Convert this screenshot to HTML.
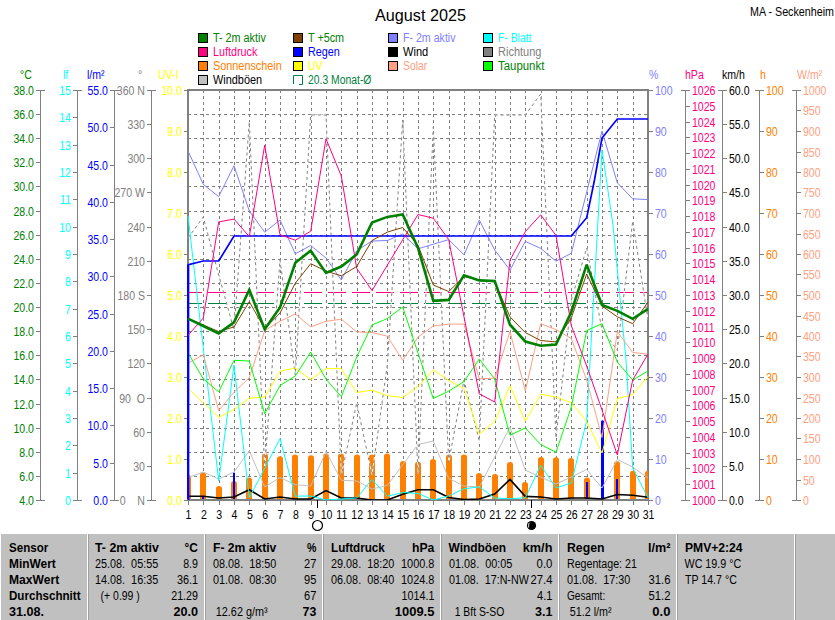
<!DOCTYPE html>
<html><head><meta charset="utf-8"><style>html,body{margin:0;padding:0;background:#fff;width:835px;height:620px;overflow:hidden}text{font-family:"Liberation Sans",sans-serif}</style></head><body>
<svg width="835" height="620" viewBox="0 0 835 620" style="display:block;font-family:&quot;Liberation Sans&quot;,sans-serif">
<rect x="0" y="0" width="835" height="620" fill="#fff"/>
<text xml:space="preserve" x="375.00" y="20.50" fill="#000" font-size="16" text-anchor="start" font-weight="normal" textLength="91" lengthAdjust="spacingAndGlyphs">August 2025</text>
<text xml:space="preserve" x="750.00" y="16.00" fill="#000" font-size="12" text-anchor="start" font-weight="normal" textLength="84" lengthAdjust="spacingAndGlyphs">MA - Seckenheim</text>
<rect x="198.5" y="33.5" width="9" height="9" fill="#008000" stroke="#000" stroke-width="1"/>
<text xml:space="preserve" x="213.00" y="42.00" fill="#008000" font-size="12" text-anchor="start" font-weight="normal" textLength="52.8" lengthAdjust="spacingAndGlyphs">T- 2m aktiv</text>
<rect x="198.5" y="47.5" width="9" height="9" fill="#ff0080" stroke="#000" stroke-width="1"/>
<text xml:space="preserve" x="213.00" y="56.00" fill="#ff0080" font-size="12" text-anchor="start" font-weight="normal" textLength="44.3" lengthAdjust="spacingAndGlyphs">Luftdruck</text>
<rect x="198.5" y="61.5" width="9" height="9" fill="#ff8000" stroke="#000" stroke-width="1"/>
<text xml:space="preserve" x="213.00" y="70.00" fill="#ff8000" font-size="12" text-anchor="start" font-weight="normal" textLength="68.8" lengthAdjust="spacingAndGlyphs">Sonnenschein</text>
<rect x="198.5" y="75.5" width="9" height="9" fill="#c0c0c0" stroke="#000" stroke-width="1"/>
<text xml:space="preserve" x="213.00" y="84.00" fill="#000000" font-size="12" text-anchor="start" font-weight="normal" textLength="49.099999999999994" lengthAdjust="spacingAndGlyphs">Windböen</text>
<rect x="293.5" y="33.5" width="9" height="9" fill="#804000" stroke="#000" stroke-width="1"/>
<text xml:space="preserve" x="308.00" y="42.00" fill="#008000" font-size="12" text-anchor="start" font-weight="normal" textLength="36.099999999999994" lengthAdjust="spacingAndGlyphs">T +5cm</text>
<rect x="293.5" y="47.5" width="9" height="9" fill="#0000ff" stroke="#000" stroke-width="1"/>
<text xml:space="preserve" x="308.00" y="56.00" fill="#0000ff" font-size="12" text-anchor="start" font-weight="normal" textLength="31.8" lengthAdjust="spacingAndGlyphs">Regen</text>
<rect x="293.5" y="61.5" width="9" height="9" fill="#ffff00" stroke="#000" stroke-width="1"/>
<text xml:space="preserve" x="308.00" y="70.00" fill="#ffff00" font-size="12" text-anchor="start" font-weight="normal" textLength="14.5" lengthAdjust="spacingAndGlyphs">UV</text>
<rect x="388.5" y="33.5" width="9" height="9" fill="#8080ff" stroke="#000" stroke-width="1"/>
<text xml:space="preserve" x="403.00" y="42.00" fill="#8080ff" font-size="12" text-anchor="start" font-weight="normal" textLength="52.5" lengthAdjust="spacingAndGlyphs">F- 2m aktiv</text>
<rect x="388.5" y="47.5" width="9" height="9" fill="#000000" stroke="#000" stroke-width="1"/>
<text xml:space="preserve" x="403.00" y="56.00" fill="#000000" font-size="12" text-anchor="start" font-weight="normal" textLength="25.2" lengthAdjust="spacingAndGlyphs">Wind</text>
<rect x="388.5" y="61.5" width="9" height="9" fill="#ffa080" stroke="#000" stroke-width="1"/>
<text xml:space="preserve" x="403.00" y="70.00" fill="#ffa080" font-size="12" text-anchor="start" font-weight="normal" textLength="24.3" lengthAdjust="spacingAndGlyphs">Solar</text>
<rect x="483.5" y="33.5" width="9" height="9" fill="#00ffff" stroke="#000" stroke-width="1"/>
<text xml:space="preserve" x="498.00" y="42.00" fill="#00ffff" font-size="12" text-anchor="start" font-weight="normal" textLength="33.4" lengthAdjust="spacingAndGlyphs">F- Blatt</text>
<rect x="483.5" y="47.5" width="9" height="9" fill="#808080" stroke="#000" stroke-width="1"/>
<text xml:space="preserve" x="498.00" y="56.00" fill="#808080" font-size="12" text-anchor="start" font-weight="normal" textLength="43.4" lengthAdjust="spacingAndGlyphs">Richtung</text>
<rect x="483.5" y="61.5" width="9" height="9" fill="#00ff00" stroke="#000" stroke-width="1"/>
<text xml:space="preserve" x="498.00" y="70.00" fill="#008000" font-size="12" text-anchor="start" font-weight="normal" textLength="46.3" lengthAdjust="spacingAndGlyphs">Taupunkt</text>
<path d="M293.5,84 V75.5 H302.5 V84.5 H299" fill="none" stroke="#008040" stroke-width="1"/>
<text xml:space="preserve" x="308.00" y="84.00" fill="#008040" font-size="12" text-anchor="start" font-weight="normal" textLength="63.4" lengthAdjust="spacingAndGlyphs">20.3 Monat-Ø</text>
<line x1="40.5" y1="90.0" x2="40.5" y2="501.0" stroke="#808080" stroke-width="1" />
<line x1="36" y1="90.5" x2="45" y2="90.5" stroke="#808080" stroke-width="1" />
<text xml:space="preserve" transform="translate(34.00,94.50) scale(0.88,1)" x="0" y="0" fill="#008000" font-size="12" text-anchor="end" font-weight="normal">38.0</text>
<line x1="36" y1="114.5" x2="41" y2="114.5" stroke="#808080" stroke-width="1" />
<text xml:space="preserve" transform="translate(34.00,118.50) scale(0.88,1)" x="0" y="0" fill="#008000" font-size="12" text-anchor="end" font-weight="normal">36.0</text>
<line x1="36" y1="138.5" x2="41" y2="138.5" stroke="#808080" stroke-width="1" />
<text xml:space="preserve" transform="translate(34.00,142.50) scale(0.88,1)" x="0" y="0" fill="#008000" font-size="12" text-anchor="end" font-weight="normal">34.0</text>
<line x1="36" y1="162.5" x2="41" y2="162.5" stroke="#808080" stroke-width="1" />
<text xml:space="preserve" transform="translate(34.00,166.50) scale(0.88,1)" x="0" y="0" fill="#008000" font-size="12" text-anchor="end" font-weight="normal">32.0</text>
<line x1="36" y1="186.5" x2="41" y2="186.5" stroke="#808080" stroke-width="1" />
<text xml:space="preserve" transform="translate(34.00,190.50) scale(0.88,1)" x="0" y="0" fill="#008000" font-size="12" text-anchor="end" font-weight="normal">30.0</text>
<line x1="36" y1="211.5" x2="41" y2="211.5" stroke="#808080" stroke-width="1" />
<text xml:space="preserve" transform="translate(34.00,215.50) scale(0.88,1)" x="0" y="0" fill="#008000" font-size="12" text-anchor="end" font-weight="normal">28.0</text>
<line x1="36" y1="235.5" x2="41" y2="235.5" stroke="#808080" stroke-width="1" />
<text xml:space="preserve" transform="translate(34.00,239.50) scale(0.88,1)" x="0" y="0" fill="#008000" font-size="12" text-anchor="end" font-weight="normal">26.0</text>
<line x1="36" y1="259.5" x2="41" y2="259.5" stroke="#808080" stroke-width="1" />
<text xml:space="preserve" transform="translate(34.00,263.50) scale(0.88,1)" x="0" y="0" fill="#008000" font-size="12" text-anchor="end" font-weight="normal">24.0</text>
<line x1="36" y1="283.5" x2="41" y2="283.5" stroke="#808080" stroke-width="1" />
<text xml:space="preserve" transform="translate(34.00,287.50) scale(0.88,1)" x="0" y="0" fill="#008000" font-size="12" text-anchor="end" font-weight="normal">22.0</text>
<line x1="36" y1="307.5" x2="41" y2="307.5" stroke="#808080" stroke-width="1" />
<text xml:space="preserve" transform="translate(34.00,311.50) scale(0.88,1)" x="0" y="0" fill="#008000" font-size="12" text-anchor="end" font-weight="normal">20.0</text>
<line x1="36" y1="331.5" x2="41" y2="331.5" stroke="#808080" stroke-width="1" />
<text xml:space="preserve" transform="translate(34.00,335.50) scale(0.88,1)" x="0" y="0" fill="#008000" font-size="12" text-anchor="end" font-weight="normal">18.0</text>
<line x1="36" y1="355.5" x2="41" y2="355.5" stroke="#808080" stroke-width="1" />
<text xml:space="preserve" transform="translate(34.00,359.50) scale(0.88,1)" x="0" y="0" fill="#008000" font-size="12" text-anchor="end" font-weight="normal">16.0</text>
<line x1="36" y1="379.5" x2="41" y2="379.5" stroke="#808080" stroke-width="1" />
<text xml:space="preserve" transform="translate(34.00,383.50) scale(0.88,1)" x="0" y="0" fill="#008000" font-size="12" text-anchor="end" font-weight="normal">14.0</text>
<line x1="36" y1="404.5" x2="41" y2="404.5" stroke="#808080" stroke-width="1" />
<text xml:space="preserve" transform="translate(34.00,408.50) scale(0.88,1)" x="0" y="0" fill="#008000" font-size="12" text-anchor="end" font-weight="normal">12.0</text>
<line x1="36" y1="428.5" x2="41" y2="428.5" stroke="#808080" stroke-width="1" />
<text xml:space="preserve" transform="translate(34.00,432.50) scale(0.88,1)" x="0" y="0" fill="#008000" font-size="12" text-anchor="end" font-weight="normal">10.0</text>
<line x1="36" y1="452.5" x2="41" y2="452.5" stroke="#808080" stroke-width="1" />
<text xml:space="preserve" transform="translate(34.00,456.50) scale(0.88,1)" x="0" y="0" fill="#008000" font-size="12" text-anchor="end" font-weight="normal">8.0</text>
<line x1="36" y1="476.5" x2="41" y2="476.5" stroke="#808080" stroke-width="1" />
<text xml:space="preserve" transform="translate(34.00,480.50) scale(0.88,1)" x="0" y="0" fill="#008000" font-size="12" text-anchor="end" font-weight="normal">6.0</text>
<line x1="36" y1="500.5" x2="45" y2="500.5" stroke="#808080" stroke-width="1" />
<text xml:space="preserve" transform="translate(34.00,504.50) scale(0.88,1)" x="0" y="0" fill="#008000" font-size="12" text-anchor="end" font-weight="normal">4.0</text>
<text xml:space="preserve" transform="translate(20.00,79.00) scale(0.88,1)" x="0" y="0" fill="#008000" font-size="12" text-anchor="start" font-weight="normal">°C</text>
<line x1="77.5" y1="90.0" x2="77.5" y2="501.0" stroke="#808080" stroke-width="1" />
<line x1="73" y1="90.5" x2="82" y2="90.5" stroke="#808080" stroke-width="1" />
<text xml:space="preserve" transform="translate(71.00,94.50) scale(0.88,1)" x="0" y="0" fill="#00ffff" font-size="12" text-anchor="end" font-weight="normal">15</text>
<line x1="73" y1="117.5" x2="78" y2="117.5" stroke="#808080" stroke-width="1" />
<text xml:space="preserve" transform="translate(71.00,121.50) scale(0.88,1)" x="0" y="0" fill="#00ffff" font-size="12" text-anchor="end" font-weight="normal">14</text>
<line x1="73" y1="145.5" x2="78" y2="145.5" stroke="#808080" stroke-width="1" />
<text xml:space="preserve" transform="translate(71.00,149.50) scale(0.88,1)" x="0" y="0" fill="#00ffff" font-size="12" text-anchor="end" font-weight="normal">13</text>
<line x1="73" y1="172.5" x2="78" y2="172.5" stroke="#808080" stroke-width="1" />
<text xml:space="preserve" transform="translate(71.00,176.50) scale(0.88,1)" x="0" y="0" fill="#00ffff" font-size="12" text-anchor="end" font-weight="normal">12</text>
<line x1="73" y1="199.5" x2="78" y2="199.5" stroke="#808080" stroke-width="1" />
<text xml:space="preserve" transform="translate(71.00,203.50) scale(0.88,1)" x="0" y="0" fill="#00ffff" font-size="12" text-anchor="end" font-weight="normal">11</text>
<line x1="73" y1="227.5" x2="78" y2="227.5" stroke="#808080" stroke-width="1" />
<text xml:space="preserve" transform="translate(71.00,231.50) scale(0.88,1)" x="0" y="0" fill="#00ffff" font-size="12" text-anchor="end" font-weight="normal">10</text>
<line x1="73" y1="254.5" x2="78" y2="254.5" stroke="#808080" stroke-width="1" />
<text xml:space="preserve" transform="translate(71.00,258.50) scale(0.88,1)" x="0" y="0" fill="#00ffff" font-size="12" text-anchor="end" font-weight="normal">9</text>
<line x1="73" y1="281.5" x2="78" y2="281.5" stroke="#808080" stroke-width="1" />
<text xml:space="preserve" transform="translate(71.00,285.50) scale(0.88,1)" x="0" y="0" fill="#00ffff" font-size="12" text-anchor="end" font-weight="normal">8</text>
<line x1="73" y1="309.5" x2="78" y2="309.5" stroke="#808080" stroke-width="1" />
<text xml:space="preserve" transform="translate(71.00,313.50) scale(0.88,1)" x="0" y="0" fill="#00ffff" font-size="12" text-anchor="end" font-weight="normal">7</text>
<line x1="73" y1="336.5" x2="78" y2="336.5" stroke="#808080" stroke-width="1" />
<text xml:space="preserve" transform="translate(71.00,340.50) scale(0.88,1)" x="0" y="0" fill="#00ffff" font-size="12" text-anchor="end" font-weight="normal">6</text>
<line x1="73" y1="363.5" x2="78" y2="363.5" stroke="#808080" stroke-width="1" />
<text xml:space="preserve" transform="translate(71.00,367.50) scale(0.88,1)" x="0" y="0" fill="#00ffff" font-size="12" text-anchor="end" font-weight="normal">5</text>
<line x1="73" y1="391.5" x2="78" y2="391.5" stroke="#808080" stroke-width="1" />
<text xml:space="preserve" transform="translate(71.00,395.50) scale(0.88,1)" x="0" y="0" fill="#00ffff" font-size="12" text-anchor="end" font-weight="normal">4</text>
<line x1="73" y1="418.5" x2="78" y2="418.5" stroke="#808080" stroke-width="1" />
<text xml:space="preserve" transform="translate(71.00,422.50) scale(0.88,1)" x="0" y="0" fill="#00ffff" font-size="12" text-anchor="end" font-weight="normal">3</text>
<line x1="73" y1="445.5" x2="78" y2="445.5" stroke="#808080" stroke-width="1" />
<text xml:space="preserve" transform="translate(71.00,449.50) scale(0.88,1)" x="0" y="0" fill="#00ffff" font-size="12" text-anchor="end" font-weight="normal">2</text>
<line x1="73" y1="473.5" x2="78" y2="473.5" stroke="#808080" stroke-width="1" />
<text xml:space="preserve" transform="translate(71.00,477.50) scale(0.88,1)" x="0" y="0" fill="#00ffff" font-size="12" text-anchor="end" font-weight="normal">1</text>
<line x1="73" y1="500.5" x2="82" y2="500.5" stroke="#808080" stroke-width="1" />
<text xml:space="preserve" transform="translate(71.00,504.50) scale(0.88,1)" x="0" y="0" fill="#00ffff" font-size="12" text-anchor="end" font-weight="normal">0</text>
<text xml:space="preserve" transform="translate(63.00,79.00) scale(0.88,1)" x="0" y="0" fill="#00ffff" font-size="12" text-anchor="start" font-weight="normal">lf</text>
<line x1="114.5" y1="90.0" x2="114.5" y2="501.0" stroke="#808080" stroke-width="1" />
<line x1="110" y1="90.5" x2="119" y2="90.5" stroke="#808080" stroke-width="1" />
<text xml:space="preserve" transform="translate(108.00,94.50) scale(0.88,1)" x="0" y="0" fill="#0000ff" font-size="12" text-anchor="end" font-weight="normal">55.0</text>
<line x1="110" y1="127.5" x2="115" y2="127.5" stroke="#808080" stroke-width="1" />
<text xml:space="preserve" transform="translate(108.00,131.50) scale(0.88,1)" x="0" y="0" fill="#0000ff" font-size="12" text-anchor="end" font-weight="normal">50.0</text>
<line x1="110" y1="165.5" x2="115" y2="165.5" stroke="#808080" stroke-width="1" />
<text xml:space="preserve" transform="translate(108.00,169.50) scale(0.88,1)" x="0" y="0" fill="#0000ff" font-size="12" text-anchor="end" font-weight="normal">45.0</text>
<line x1="110" y1="202.5" x2="115" y2="202.5" stroke="#808080" stroke-width="1" />
<text xml:space="preserve" transform="translate(108.00,206.50) scale(0.88,1)" x="0" y="0" fill="#0000ff" font-size="12" text-anchor="end" font-weight="normal">40.0</text>
<line x1="110" y1="239.5" x2="115" y2="239.5" stroke="#808080" stroke-width="1" />
<text xml:space="preserve" transform="translate(108.00,243.50) scale(0.88,1)" x="0" y="0" fill="#0000ff" font-size="12" text-anchor="end" font-weight="normal">35.0</text>
<line x1="110" y1="276.5" x2="115" y2="276.5" stroke="#808080" stroke-width="1" />
<text xml:space="preserve" transform="translate(108.00,280.50) scale(0.88,1)" x="0" y="0" fill="#0000ff" font-size="12" text-anchor="end" font-weight="normal">30.0</text>
<line x1="110" y1="314.5" x2="115" y2="314.5" stroke="#808080" stroke-width="1" />
<text xml:space="preserve" transform="translate(108.00,318.50) scale(0.88,1)" x="0" y="0" fill="#0000ff" font-size="12" text-anchor="end" font-weight="normal">25.0</text>
<line x1="110" y1="351.5" x2="115" y2="351.5" stroke="#808080" stroke-width="1" />
<text xml:space="preserve" transform="translate(108.00,355.50) scale(0.88,1)" x="0" y="0" fill="#0000ff" font-size="12" text-anchor="end" font-weight="normal">20.0</text>
<line x1="110" y1="388.5" x2="115" y2="388.5" stroke="#808080" stroke-width="1" />
<text xml:space="preserve" transform="translate(108.00,392.50) scale(0.88,1)" x="0" y="0" fill="#0000ff" font-size="12" text-anchor="end" font-weight="normal">15.0</text>
<line x1="110" y1="425.5" x2="115" y2="425.5" stroke="#808080" stroke-width="1" />
<text xml:space="preserve" transform="translate(108.00,429.50) scale(0.88,1)" x="0" y="0" fill="#0000ff" font-size="12" text-anchor="end" font-weight="normal">10.0</text>
<line x1="110" y1="463.5" x2="115" y2="463.5" stroke="#808080" stroke-width="1" />
<text xml:space="preserve" transform="translate(108.00,467.50) scale(0.88,1)" x="0" y="0" fill="#0000ff" font-size="12" text-anchor="end" font-weight="normal">5.0</text>
<line x1="110" y1="500.5" x2="119" y2="500.5" stroke="#808080" stroke-width="1" />
<text xml:space="preserve" transform="translate(108.00,504.50) scale(0.88,1)" x="0" y="0" fill="#0000ff" font-size="12" text-anchor="end" font-weight="normal">0.0</text>
<text xml:space="preserve" transform="translate(87.00,79.00) scale(0.88,1)" x="0" y="0" fill="#0000ff" font-size="12" text-anchor="start" font-weight="normal">l/m²</text>
<line x1="151.5" y1="90.0" x2="151.5" y2="501.0" stroke="#808080" stroke-width="1" />
<line x1="147" y1="90.5" x2="156" y2="90.5" stroke="#808080" stroke-width="1" />
<text xml:space="preserve" transform="translate(145.00,94.50) scale(0.88,1)" x="0" y="0" fill="#808080" font-size="12" text-anchor="end" font-weight="normal">360 N</text>
<line x1="147" y1="124.5" x2="152" y2="124.5" stroke="#808080" stroke-width="1" />
<text xml:space="preserve" transform="translate(145.00,128.50) scale(0.88,1)" x="0" y="0" fill="#808080" font-size="12" text-anchor="end" font-weight="normal">330</text>
<line x1="147" y1="158.5" x2="152" y2="158.5" stroke="#808080" stroke-width="1" />
<text xml:space="preserve" transform="translate(145.00,162.50) scale(0.88,1)" x="0" y="0" fill="#808080" font-size="12" text-anchor="end" font-weight="normal">300</text>
<line x1="147" y1="192.5" x2="152" y2="192.5" stroke="#808080" stroke-width="1" />
<text xml:space="preserve" transform="translate(145.00,196.50) scale(0.88,1)" x="0" y="0" fill="#808080" font-size="12" text-anchor="end" font-weight="normal">270 W</text>
<line x1="147" y1="227.5" x2="152" y2="227.5" stroke="#808080" stroke-width="1" />
<text xml:space="preserve" transform="translate(145.00,231.50) scale(0.88,1)" x="0" y="0" fill="#808080" font-size="12" text-anchor="end" font-weight="normal">240</text>
<line x1="147" y1="261.5" x2="152" y2="261.5" stroke="#808080" stroke-width="1" />
<text xml:space="preserve" transform="translate(145.00,265.50) scale(0.88,1)" x="0" y="0" fill="#808080" font-size="12" text-anchor="end" font-weight="normal">210</text>
<line x1="147" y1="295.5" x2="152" y2="295.5" stroke="#808080" stroke-width="1" />
<text xml:space="preserve" transform="translate(145.00,299.50) scale(0.88,1)" x="0" y="0" fill="#808080" font-size="12" text-anchor="end" font-weight="normal">180 S</text>
<line x1="147" y1="329.5" x2="152" y2="329.5" stroke="#808080" stroke-width="1" />
<text xml:space="preserve" transform="translate(145.00,333.50) scale(0.88,1)" x="0" y="0" fill="#808080" font-size="12" text-anchor="end" font-weight="normal">150</text>
<line x1="147" y1="363.5" x2="152" y2="363.5" stroke="#808080" stroke-width="1" />
<text xml:space="preserve" transform="translate(145.00,367.50) scale(0.88,1)" x="0" y="0" fill="#808080" font-size="12" text-anchor="end" font-weight="normal">120</text>
<line x1="147" y1="398.5" x2="152" y2="398.5" stroke="#808080" stroke-width="1" />
<text xml:space="preserve" transform="translate(145.00,402.50) scale(0.88,1)" x="0" y="0" fill="#808080" font-size="12" text-anchor="end" font-weight="normal">90  O</text>
<line x1="147" y1="432.5" x2="152" y2="432.5" stroke="#808080" stroke-width="1" />
<text xml:space="preserve" transform="translate(145.00,436.50) scale(0.88,1)" x="0" y="0" fill="#808080" font-size="12" text-anchor="end" font-weight="normal">60</text>
<line x1="147" y1="466.5" x2="152" y2="466.5" stroke="#808080" stroke-width="1" />
<text xml:space="preserve" transform="translate(145.00,470.50) scale(0.88,1)" x="0" y="0" fill="#808080" font-size="12" text-anchor="end" font-weight="normal">30</text>
<line x1="147" y1="500.5" x2="156" y2="500.5" stroke="#808080" stroke-width="1" />
<text xml:space="preserve" transform="translate(145.00,504.50) scale(0.88,1)" x="0" y="0" fill="#808080" font-size="12" text-anchor="end" font-weight="normal">0    N</text>
<text xml:space="preserve" transform="translate(138.00,79.00) scale(0.88,1)" x="0" y="0" fill="#808080" font-size="12" text-anchor="start" font-weight="normal">°</text>
<line x1="184" y1="90.5" x2="188" y2="90.5" stroke="#808080" stroke-width="1" />
<text xml:space="preserve" transform="translate(182.00,94.50) scale(0.88,1)" x="0" y="0" fill="#ffff00" font-size="12" text-anchor="end" font-weight="normal">10.0</text>
<line x1="184" y1="131.5" x2="188" y2="131.5" stroke="#808080" stroke-width="1" />
<text xml:space="preserve" transform="translate(182.00,135.50) scale(0.88,1)" x="0" y="0" fill="#ffff00" font-size="12" text-anchor="end" font-weight="normal">9.0</text>
<line x1="184" y1="172.5" x2="188" y2="172.5" stroke="#808080" stroke-width="1" />
<text xml:space="preserve" transform="translate(182.00,176.50) scale(0.88,1)" x="0" y="0" fill="#ffff00" font-size="12" text-anchor="end" font-weight="normal">8.0</text>
<line x1="184" y1="213.5" x2="188" y2="213.5" stroke="#808080" stroke-width="1" />
<text xml:space="preserve" transform="translate(182.00,217.50) scale(0.88,1)" x="0" y="0" fill="#ffff00" font-size="12" text-anchor="end" font-weight="normal">7.0</text>
<line x1="184" y1="254.5" x2="188" y2="254.5" stroke="#808080" stroke-width="1" />
<text xml:space="preserve" transform="translate(182.00,258.50) scale(0.88,1)" x="0" y="0" fill="#ffff00" font-size="12" text-anchor="end" font-weight="normal">6.0</text>
<line x1="184" y1="295.5" x2="188" y2="295.5" stroke="#808080" stroke-width="1" />
<text xml:space="preserve" transform="translate(182.00,299.50) scale(0.88,1)" x="0" y="0" fill="#ffff00" font-size="12" text-anchor="end" font-weight="normal">5.0</text>
<line x1="184" y1="336.5" x2="188" y2="336.5" stroke="#808080" stroke-width="1" />
<text xml:space="preserve" transform="translate(182.00,340.50) scale(0.88,1)" x="0" y="0" fill="#ffff00" font-size="12" text-anchor="end" font-weight="normal">4.0</text>
<line x1="184" y1="377.5" x2="188" y2="377.5" stroke="#808080" stroke-width="1" />
<text xml:space="preserve" transform="translate(182.00,381.50) scale(0.88,1)" x="0" y="0" fill="#ffff00" font-size="12" text-anchor="end" font-weight="normal">3.0</text>
<line x1="184" y1="418.5" x2="188" y2="418.5" stroke="#808080" stroke-width="1" />
<text xml:space="preserve" transform="translate(182.00,422.50) scale(0.88,1)" x="0" y="0" fill="#ffff00" font-size="12" text-anchor="end" font-weight="normal">2.0</text>
<line x1="184" y1="459.5" x2="188" y2="459.5" stroke="#808080" stroke-width="1" />
<text xml:space="preserve" transform="translate(182.00,463.50) scale(0.88,1)" x="0" y="0" fill="#ffff00" font-size="12" text-anchor="end" font-weight="normal">1.0</text>
<line x1="184" y1="500.5" x2="188" y2="500.5" stroke="#808080" stroke-width="1" />
<text xml:space="preserve" transform="translate(182.00,504.50) scale(0.88,1)" x="0" y="0" fill="#ffff00" font-size="12" text-anchor="end" font-weight="normal">0.0</text>
<text xml:space="preserve" transform="translate(158.00,79.00) scale(0.88,1)" x="0" y="0" fill="#ffff00" font-size="12" text-anchor="start" font-weight="normal">UV-I</text>
<line x1="648" y1="90.5" x2="653" y2="90.5" stroke="#808080" stroke-width="1" />
<text xml:space="preserve" transform="translate(655.00,94.50) scale(0.88,1)" x="0" y="0" fill="#8080ff" font-size="12" text-anchor="start" font-weight="normal">100</text>
<line x1="648" y1="131.5" x2="653" y2="131.5" stroke="#808080" stroke-width="1" />
<text xml:space="preserve" transform="translate(655.00,135.50) scale(0.88,1)" x="0" y="0" fill="#8080ff" font-size="12" text-anchor="start" font-weight="normal">90</text>
<line x1="648" y1="172.5" x2="653" y2="172.5" stroke="#808080" stroke-width="1" />
<text xml:space="preserve" transform="translate(655.00,176.50) scale(0.88,1)" x="0" y="0" fill="#8080ff" font-size="12" text-anchor="start" font-weight="normal">80</text>
<line x1="648" y1="213.5" x2="653" y2="213.5" stroke="#808080" stroke-width="1" />
<text xml:space="preserve" transform="translate(655.00,217.50) scale(0.88,1)" x="0" y="0" fill="#8080ff" font-size="12" text-anchor="start" font-weight="normal">70</text>
<line x1="648" y1="254.5" x2="653" y2="254.5" stroke="#808080" stroke-width="1" />
<text xml:space="preserve" transform="translate(655.00,258.50) scale(0.88,1)" x="0" y="0" fill="#8080ff" font-size="12" text-anchor="start" font-weight="normal">60</text>
<line x1="648" y1="295.5" x2="653" y2="295.5" stroke="#808080" stroke-width="1" />
<text xml:space="preserve" transform="translate(655.00,299.50) scale(0.88,1)" x="0" y="0" fill="#8080ff" font-size="12" text-anchor="start" font-weight="normal">50</text>
<line x1="648" y1="336.5" x2="653" y2="336.5" stroke="#808080" stroke-width="1" />
<text xml:space="preserve" transform="translate(655.00,340.50) scale(0.88,1)" x="0" y="0" fill="#8080ff" font-size="12" text-anchor="start" font-weight="normal">40</text>
<line x1="648" y1="377.5" x2="653" y2="377.5" stroke="#808080" stroke-width="1" />
<text xml:space="preserve" transform="translate(655.00,381.50) scale(0.88,1)" x="0" y="0" fill="#8080ff" font-size="12" text-anchor="start" font-weight="normal">30</text>
<line x1="648" y1="418.5" x2="653" y2="418.5" stroke="#808080" stroke-width="1" />
<text xml:space="preserve" transform="translate(655.00,422.50) scale(0.88,1)" x="0" y="0" fill="#8080ff" font-size="12" text-anchor="start" font-weight="normal">20</text>
<line x1="648" y1="459.5" x2="653" y2="459.5" stroke="#808080" stroke-width="1" />
<text xml:space="preserve" transform="translate(655.00,463.50) scale(0.88,1)" x="0" y="0" fill="#8080ff" font-size="12" text-anchor="start" font-weight="normal">10</text>
<line x1="648" y1="500.5" x2="653" y2="500.5" stroke="#808080" stroke-width="1" />
<text xml:space="preserve" transform="translate(655.00,504.50) scale(0.88,1)" x="0" y="0" fill="#8080ff" font-size="12" text-anchor="start" font-weight="normal">0</text>
<text xml:space="preserve" transform="translate(649.00,79.00) scale(0.88,1)" x="0" y="0" fill="#8080ff" font-size="12" text-anchor="start" font-weight="normal">%</text>
<line x1="685.5" y1="90.0" x2="685.5" y2="501.0" stroke="#808080" stroke-width="1" />
<line x1="681" y1="90.5" x2="690" y2="90.5" stroke="#808080" stroke-width="1" />
<text xml:space="preserve" transform="translate(692.00,94.50) scale(0.88,1)" x="0" y="0" fill="#ff0080" font-size="12" text-anchor="start" font-weight="normal">1026</text>
<line x1="685" y1="106.5" x2="690" y2="106.5" stroke="#808080" stroke-width="1" />
<text xml:space="preserve" transform="translate(692.00,110.50) scale(0.88,1)" x="0" y="0" fill="#ff0080" font-size="12" text-anchor="start" font-weight="normal">1025</text>
<line x1="685" y1="122.5" x2="690" y2="122.5" stroke="#808080" stroke-width="1" />
<text xml:space="preserve" transform="translate(692.00,126.50) scale(0.88,1)" x="0" y="0" fill="#ff0080" font-size="12" text-anchor="start" font-weight="normal">1024</text>
<line x1="685" y1="137.5" x2="690" y2="137.5" stroke="#808080" stroke-width="1" />
<text xml:space="preserve" transform="translate(692.00,141.50) scale(0.88,1)" x="0" y="0" fill="#ff0080" font-size="12" text-anchor="start" font-weight="normal">1023</text>
<line x1="685" y1="153.5" x2="690" y2="153.5" stroke="#808080" stroke-width="1" />
<text xml:space="preserve" transform="translate(692.00,157.50) scale(0.88,1)" x="0" y="0" fill="#ff0080" font-size="12" text-anchor="start" font-weight="normal">1022</text>
<line x1="685" y1="169.5" x2="690" y2="169.5" stroke="#808080" stroke-width="1" />
<text xml:space="preserve" transform="translate(692.00,173.50) scale(0.88,1)" x="0" y="0" fill="#ff0080" font-size="12" text-anchor="start" font-weight="normal">1021</text>
<line x1="685" y1="185.5" x2="690" y2="185.5" stroke="#808080" stroke-width="1" />
<text xml:space="preserve" transform="translate(692.00,189.50) scale(0.88,1)" x="0" y="0" fill="#ff0080" font-size="12" text-anchor="start" font-weight="normal">1020</text>
<line x1="685" y1="200.5" x2="690" y2="200.5" stroke="#808080" stroke-width="1" />
<text xml:space="preserve" transform="translate(692.00,204.50) scale(0.88,1)" x="0" y="0" fill="#ff0080" font-size="12" text-anchor="start" font-weight="normal">1019</text>
<line x1="685" y1="216.5" x2="690" y2="216.5" stroke="#808080" stroke-width="1" />
<text xml:space="preserve" transform="translate(692.00,220.50) scale(0.88,1)" x="0" y="0" fill="#ff0080" font-size="12" text-anchor="start" font-weight="normal">1018</text>
<line x1="685" y1="232.5" x2="690" y2="232.5" stroke="#808080" stroke-width="1" />
<text xml:space="preserve" transform="translate(692.00,236.50) scale(0.88,1)" x="0" y="0" fill="#ff0080" font-size="12" text-anchor="start" font-weight="normal">1017</text>
<line x1="685" y1="248.5" x2="690" y2="248.5" stroke="#808080" stroke-width="1" />
<text xml:space="preserve" transform="translate(692.00,252.50) scale(0.88,1)" x="0" y="0" fill="#ff0080" font-size="12" text-anchor="start" font-weight="normal">1016</text>
<line x1="685" y1="263.5" x2="690" y2="263.5" stroke="#808080" stroke-width="1" />
<text xml:space="preserve" transform="translate(692.00,267.50) scale(0.88,1)" x="0" y="0" fill="#ff0080" font-size="12" text-anchor="start" font-weight="normal">1015</text>
<line x1="685" y1="279.5" x2="690" y2="279.5" stroke="#808080" stroke-width="1" />
<text xml:space="preserve" transform="translate(692.00,283.50) scale(0.88,1)" x="0" y="0" fill="#ff0080" font-size="12" text-anchor="start" font-weight="normal">1014</text>
<line x1="685" y1="295.5" x2="690" y2="295.5" stroke="#808080" stroke-width="1" />
<text xml:space="preserve" transform="translate(692.00,299.50) scale(0.88,1)" x="0" y="0" fill="#ff0080" font-size="12" text-anchor="start" font-weight="normal">1013</text>
<line x1="685" y1="311.5" x2="690" y2="311.5" stroke="#808080" stroke-width="1" />
<text xml:space="preserve" transform="translate(692.00,315.50) scale(0.88,1)" x="0" y="0" fill="#ff0080" font-size="12" text-anchor="start" font-weight="normal">1012</text>
<line x1="685" y1="327.5" x2="690" y2="327.5" stroke="#808080" stroke-width="1" />
<text xml:space="preserve" transform="translate(692.00,331.50) scale(0.88,1)" x="0" y="0" fill="#ff0080" font-size="12" text-anchor="start" font-weight="normal">1011</text>
<line x1="685" y1="342.5" x2="690" y2="342.5" stroke="#808080" stroke-width="1" />
<text xml:space="preserve" transform="translate(692.00,346.50) scale(0.88,1)" x="0" y="0" fill="#ff0080" font-size="12" text-anchor="start" font-weight="normal">1010</text>
<line x1="685" y1="358.5" x2="690" y2="358.5" stroke="#808080" stroke-width="1" />
<text xml:space="preserve" transform="translate(692.00,362.50) scale(0.88,1)" x="0" y="0" fill="#ff0080" font-size="12" text-anchor="start" font-weight="normal">1009</text>
<line x1="685" y1="374.5" x2="690" y2="374.5" stroke="#808080" stroke-width="1" />
<text xml:space="preserve" transform="translate(692.00,378.50) scale(0.88,1)" x="0" y="0" fill="#ff0080" font-size="12" text-anchor="start" font-weight="normal">1008</text>
<line x1="685" y1="390.5" x2="690" y2="390.5" stroke="#808080" stroke-width="1" />
<text xml:space="preserve" transform="translate(692.00,394.50) scale(0.88,1)" x="0" y="0" fill="#ff0080" font-size="12" text-anchor="start" font-weight="normal">1007</text>
<line x1="685" y1="405.5" x2="690" y2="405.5" stroke="#808080" stroke-width="1" />
<text xml:space="preserve" transform="translate(692.00,409.50) scale(0.88,1)" x="0" y="0" fill="#ff0080" font-size="12" text-anchor="start" font-weight="normal">1006</text>
<line x1="685" y1="421.5" x2="690" y2="421.5" stroke="#808080" stroke-width="1" />
<text xml:space="preserve" transform="translate(692.00,425.50) scale(0.88,1)" x="0" y="0" fill="#ff0080" font-size="12" text-anchor="start" font-weight="normal">1005</text>
<line x1="685" y1="437.5" x2="690" y2="437.5" stroke="#808080" stroke-width="1" />
<text xml:space="preserve" transform="translate(692.00,441.50) scale(0.88,1)" x="0" y="0" fill="#ff0080" font-size="12" text-anchor="start" font-weight="normal">1004</text>
<line x1="685" y1="453.5" x2="690" y2="453.5" stroke="#808080" stroke-width="1" />
<text xml:space="preserve" transform="translate(692.00,457.50) scale(0.88,1)" x="0" y="0" fill="#ff0080" font-size="12" text-anchor="start" font-weight="normal">1003</text>
<line x1="685" y1="468.5" x2="690" y2="468.5" stroke="#808080" stroke-width="1" />
<text xml:space="preserve" transform="translate(692.00,472.50) scale(0.88,1)" x="0" y="0" fill="#ff0080" font-size="12" text-anchor="start" font-weight="normal">1002</text>
<line x1="685" y1="484.5" x2="690" y2="484.5" stroke="#808080" stroke-width="1" />
<text xml:space="preserve" transform="translate(692.00,488.50) scale(0.88,1)" x="0" y="0" fill="#ff0080" font-size="12" text-anchor="start" font-weight="normal">1001</text>
<line x1="681" y1="500.5" x2="690" y2="500.5" stroke="#808080" stroke-width="1" />
<text xml:space="preserve" transform="translate(692.00,504.50) scale(0.88,1)" x="0" y="0" fill="#ff0080" font-size="12" text-anchor="start" font-weight="normal">1000</text>
<text xml:space="preserve" transform="translate(685.00,79.00) scale(0.88,1)" x="0" y="0" fill="#ff0080" font-size="12" text-anchor="start" font-weight="normal">hPa</text>
<line x1="722.5" y1="90.0" x2="722.5" y2="501.0" stroke="#808080" stroke-width="1" />
<line x1="718" y1="90.5" x2="727" y2="90.5" stroke="#808080" stroke-width="1" />
<text xml:space="preserve" transform="translate(729.00,94.50) scale(0.88,1)" x="0" y="0" fill="#000000" font-size="12" text-anchor="start" font-weight="normal">60.0</text>
<line x1="722" y1="124.5" x2="727" y2="124.5" stroke="#808080" stroke-width="1" />
<text xml:space="preserve" transform="translate(729.00,128.50) scale(0.88,1)" x="0" y="0" fill="#000000" font-size="12" text-anchor="start" font-weight="normal">55.0</text>
<line x1="722" y1="158.5" x2="727" y2="158.5" stroke="#808080" stroke-width="1" />
<text xml:space="preserve" transform="translate(729.00,162.50) scale(0.88,1)" x="0" y="0" fill="#000000" font-size="12" text-anchor="start" font-weight="normal">50.0</text>
<line x1="722" y1="192.5" x2="727" y2="192.5" stroke="#808080" stroke-width="1" />
<text xml:space="preserve" transform="translate(729.00,196.50) scale(0.88,1)" x="0" y="0" fill="#000000" font-size="12" text-anchor="start" font-weight="normal">45.0</text>
<line x1="722" y1="227.5" x2="727" y2="227.5" stroke="#808080" stroke-width="1" />
<text xml:space="preserve" transform="translate(729.00,231.50) scale(0.88,1)" x="0" y="0" fill="#000000" font-size="12" text-anchor="start" font-weight="normal">40.0</text>
<line x1="722" y1="261.5" x2="727" y2="261.5" stroke="#808080" stroke-width="1" />
<text xml:space="preserve" transform="translate(729.00,265.50) scale(0.88,1)" x="0" y="0" fill="#000000" font-size="12" text-anchor="start" font-weight="normal">35.0</text>
<line x1="722" y1="295.5" x2="727" y2="295.5" stroke="#808080" stroke-width="1" />
<text xml:space="preserve" transform="translate(729.00,299.50) scale(0.88,1)" x="0" y="0" fill="#000000" font-size="12" text-anchor="start" font-weight="normal">30.0</text>
<line x1="722" y1="329.5" x2="727" y2="329.5" stroke="#808080" stroke-width="1" />
<text xml:space="preserve" transform="translate(729.00,333.50) scale(0.88,1)" x="0" y="0" fill="#000000" font-size="12" text-anchor="start" font-weight="normal">25.0</text>
<line x1="722" y1="363.5" x2="727" y2="363.5" stroke="#808080" stroke-width="1" />
<text xml:space="preserve" transform="translate(729.00,367.50) scale(0.88,1)" x="0" y="0" fill="#000000" font-size="12" text-anchor="start" font-weight="normal">20.0</text>
<line x1="722" y1="398.5" x2="727" y2="398.5" stroke="#808080" stroke-width="1" />
<text xml:space="preserve" transform="translate(729.00,402.50) scale(0.88,1)" x="0" y="0" fill="#000000" font-size="12" text-anchor="start" font-weight="normal">15.0</text>
<line x1="722" y1="432.5" x2="727" y2="432.5" stroke="#808080" stroke-width="1" />
<text xml:space="preserve" transform="translate(729.00,436.50) scale(0.88,1)" x="0" y="0" fill="#000000" font-size="12" text-anchor="start" font-weight="normal">10.0</text>
<line x1="722" y1="466.5" x2="727" y2="466.5" stroke="#808080" stroke-width="1" />
<text xml:space="preserve" transform="translate(729.00,470.50) scale(0.88,1)" x="0" y="0" fill="#000000" font-size="12" text-anchor="start" font-weight="normal">5.0</text>
<line x1="718" y1="500.5" x2="727" y2="500.5" stroke="#808080" stroke-width="1" />
<text xml:space="preserve" transform="translate(729.00,504.50) scale(0.88,1)" x="0" y="0" fill="#000000" font-size="12" text-anchor="start" font-weight="normal">0.0</text>
<text xml:space="preserve" transform="translate(722.00,79.00) scale(0.88,1)" x="0" y="0" fill="#000000" font-size="12" text-anchor="start" font-weight="normal">km/h</text>
<line x1="759.5" y1="90.0" x2="759.5" y2="501.0" stroke="#808080" stroke-width="1" />
<line x1="755" y1="90.5" x2="764" y2="90.5" stroke="#808080" stroke-width="1" />
<text xml:space="preserve" transform="translate(766.00,94.50) scale(0.88,1)" x="0" y="0" fill="#ff8000" font-size="12" text-anchor="start" font-weight="normal">100</text>
<line x1="759" y1="131.5" x2="764" y2="131.5" stroke="#808080" stroke-width="1" />
<text xml:space="preserve" transform="translate(766.00,135.50) scale(0.88,1)" x="0" y="0" fill="#ff8000" font-size="12" text-anchor="start" font-weight="normal">90</text>
<line x1="759" y1="172.5" x2="764" y2="172.5" stroke="#808080" stroke-width="1" />
<text xml:space="preserve" transform="translate(766.00,176.50) scale(0.88,1)" x="0" y="0" fill="#ff8000" font-size="12" text-anchor="start" font-weight="normal">80</text>
<line x1="759" y1="213.5" x2="764" y2="213.5" stroke="#808080" stroke-width="1" />
<text xml:space="preserve" transform="translate(766.00,217.50) scale(0.88,1)" x="0" y="0" fill="#ff8000" font-size="12" text-anchor="start" font-weight="normal">70</text>
<line x1="759" y1="254.5" x2="764" y2="254.5" stroke="#808080" stroke-width="1" />
<text xml:space="preserve" transform="translate(766.00,258.50) scale(0.88,1)" x="0" y="0" fill="#ff8000" font-size="12" text-anchor="start" font-weight="normal">60</text>
<line x1="759" y1="295.5" x2="764" y2="295.5" stroke="#808080" stroke-width="1" />
<text xml:space="preserve" transform="translate(766.00,299.50) scale(0.88,1)" x="0" y="0" fill="#ff8000" font-size="12" text-anchor="start" font-weight="normal">50</text>
<line x1="759" y1="336.5" x2="764" y2="336.5" stroke="#808080" stroke-width="1" />
<text xml:space="preserve" transform="translate(766.00,340.50) scale(0.88,1)" x="0" y="0" fill="#ff8000" font-size="12" text-anchor="start" font-weight="normal">40</text>
<line x1="759" y1="377.5" x2="764" y2="377.5" stroke="#808080" stroke-width="1" />
<text xml:space="preserve" transform="translate(766.00,381.50) scale(0.88,1)" x="0" y="0" fill="#ff8000" font-size="12" text-anchor="start" font-weight="normal">30</text>
<line x1="759" y1="418.5" x2="764" y2="418.5" stroke="#808080" stroke-width="1" />
<text xml:space="preserve" transform="translate(766.00,422.50) scale(0.88,1)" x="0" y="0" fill="#ff8000" font-size="12" text-anchor="start" font-weight="normal">20</text>
<line x1="759" y1="459.5" x2="764" y2="459.5" stroke="#808080" stroke-width="1" />
<text xml:space="preserve" transform="translate(766.00,463.50) scale(0.88,1)" x="0" y="0" fill="#ff8000" font-size="12" text-anchor="start" font-weight="normal">10</text>
<line x1="755" y1="500.5" x2="764" y2="500.5" stroke="#808080" stroke-width="1" />
<text xml:space="preserve" transform="translate(766.00,504.50) scale(0.88,1)" x="0" y="0" fill="#ff8000" font-size="12" text-anchor="start" font-weight="normal">0</text>
<text xml:space="preserve" transform="translate(760.00,79.00) scale(0.88,1)" x="0" y="0" fill="#ff8000" font-size="12" text-anchor="start" font-weight="normal">h</text>
<line x1="796.5" y1="90.0" x2="796.5" y2="501.0" stroke="#808080" stroke-width="1" />
<line x1="792" y1="90.5" x2="801" y2="90.5" stroke="#808080" stroke-width="1" />
<text xml:space="preserve" transform="translate(803.00,94.50) scale(0.88,1)" x="0" y="0" fill="#ffa080" font-size="12" text-anchor="start" font-weight="normal">1000</text>
<line x1="796" y1="110.5" x2="801" y2="110.5" stroke="#808080" stroke-width="1" />
<text xml:space="preserve" transform="translate(803.00,114.50) scale(0.88,1)" x="0" y="0" fill="#ffa080" font-size="12" text-anchor="start" font-weight="normal">950</text>
<line x1="796" y1="131.5" x2="801" y2="131.5" stroke="#808080" stroke-width="1" />
<text xml:space="preserve" transform="translate(803.00,135.50) scale(0.88,1)" x="0" y="0" fill="#ffa080" font-size="12" text-anchor="start" font-weight="normal">900</text>
<line x1="796" y1="152.5" x2="801" y2="152.5" stroke="#808080" stroke-width="1" />
<text xml:space="preserve" transform="translate(803.00,156.50) scale(0.88,1)" x="0" y="0" fill="#ffa080" font-size="12" text-anchor="start" font-weight="normal">850</text>
<line x1="796" y1="172.5" x2="801" y2="172.5" stroke="#808080" stroke-width="1" />
<text xml:space="preserve" transform="translate(803.00,176.50) scale(0.88,1)" x="0" y="0" fill="#ffa080" font-size="12" text-anchor="start" font-weight="normal">800</text>
<line x1="796" y1="192.5" x2="801" y2="192.5" stroke="#808080" stroke-width="1" />
<text xml:space="preserve" transform="translate(803.00,196.50) scale(0.88,1)" x="0" y="0" fill="#ffa080" font-size="12" text-anchor="start" font-weight="normal">750</text>
<line x1="796" y1="213.5" x2="801" y2="213.5" stroke="#808080" stroke-width="1" />
<text xml:space="preserve" transform="translate(803.00,217.50) scale(0.88,1)" x="0" y="0" fill="#ffa080" font-size="12" text-anchor="start" font-weight="normal">700</text>
<line x1="796" y1="234.5" x2="801" y2="234.5" stroke="#808080" stroke-width="1" />
<text xml:space="preserve" transform="translate(803.00,238.50) scale(0.88,1)" x="0" y="0" fill="#ffa080" font-size="12" text-anchor="start" font-weight="normal">650</text>
<line x1="796" y1="254.5" x2="801" y2="254.5" stroke="#808080" stroke-width="1" />
<text xml:space="preserve" transform="translate(803.00,258.50) scale(0.88,1)" x="0" y="0" fill="#ffa080" font-size="12" text-anchor="start" font-weight="normal">600</text>
<line x1="796" y1="274.5" x2="801" y2="274.5" stroke="#808080" stroke-width="1" />
<text xml:space="preserve" transform="translate(803.00,278.50) scale(0.88,1)" x="0" y="0" fill="#ffa080" font-size="12" text-anchor="start" font-weight="normal">550</text>
<line x1="796" y1="295.5" x2="801" y2="295.5" stroke="#808080" stroke-width="1" />
<text xml:space="preserve" transform="translate(803.00,299.50) scale(0.88,1)" x="0" y="0" fill="#ffa080" font-size="12" text-anchor="start" font-weight="normal">500</text>
<line x1="796" y1="316.5" x2="801" y2="316.5" stroke="#808080" stroke-width="1" />
<text xml:space="preserve" transform="translate(803.00,320.50) scale(0.88,1)" x="0" y="0" fill="#ffa080" font-size="12" text-anchor="start" font-weight="normal">450</text>
<line x1="796" y1="336.5" x2="801" y2="336.5" stroke="#808080" stroke-width="1" />
<text xml:space="preserve" transform="translate(803.00,340.50) scale(0.88,1)" x="0" y="0" fill="#ffa080" font-size="12" text-anchor="start" font-weight="normal">400</text>
<line x1="796" y1="356.5" x2="801" y2="356.5" stroke="#808080" stroke-width="1" />
<text xml:space="preserve" transform="translate(803.00,360.50) scale(0.88,1)" x="0" y="0" fill="#ffa080" font-size="12" text-anchor="start" font-weight="normal">350</text>
<line x1="796" y1="377.5" x2="801" y2="377.5" stroke="#808080" stroke-width="1" />
<text xml:space="preserve" transform="translate(803.00,381.50) scale(0.88,1)" x="0" y="0" fill="#ffa080" font-size="12" text-anchor="start" font-weight="normal">300</text>
<line x1="796" y1="398.5" x2="801" y2="398.5" stroke="#808080" stroke-width="1" />
<text xml:space="preserve" transform="translate(803.00,402.50) scale(0.88,1)" x="0" y="0" fill="#ffa080" font-size="12" text-anchor="start" font-weight="normal">250</text>
<line x1="796" y1="418.5" x2="801" y2="418.5" stroke="#808080" stroke-width="1" />
<text xml:space="preserve" transform="translate(803.00,422.50) scale(0.88,1)" x="0" y="0" fill="#ffa080" font-size="12" text-anchor="start" font-weight="normal">200</text>
<line x1="796" y1="438.5" x2="801" y2="438.5" stroke="#808080" stroke-width="1" />
<text xml:space="preserve" transform="translate(803.00,442.50) scale(0.88,1)" x="0" y="0" fill="#ffa080" font-size="12" text-anchor="start" font-weight="normal">150</text>
<line x1="796" y1="459.5" x2="801" y2="459.5" stroke="#808080" stroke-width="1" />
<text xml:space="preserve" transform="translate(803.00,463.50) scale(0.88,1)" x="0" y="0" fill="#ffa080" font-size="12" text-anchor="start" font-weight="normal">100</text>
<line x1="796" y1="480.5" x2="801" y2="480.5" stroke="#808080" stroke-width="1" />
<text xml:space="preserve" transform="translate(803.00,484.50) scale(0.88,1)" x="0" y="0" fill="#ffa080" font-size="12" text-anchor="start" font-weight="normal">50</text>
<line x1="792" y1="500.5" x2="801" y2="500.5" stroke="#808080" stroke-width="1" />
<text xml:space="preserve" transform="translate(803.00,504.50) scale(0.88,1)" x="0" y="0" fill="#ffa080" font-size="12" text-anchor="start" font-weight="normal">0</text>
<text xml:space="preserve" transform="translate(797.00,79.00) scale(0.88,1)" x="0" y="0" fill="#ffa080" font-size="12" text-anchor="start" font-weight="normal">W/m²</text>
<line x1="189" y1="114.5" x2="647" y2="114.5" stroke="#808080" stroke-width="1" stroke-dasharray="3 3" stroke-dashoffset="1"/>
<line x1="189" y1="138.5" x2="647" y2="138.5" stroke="#808080" stroke-width="1" stroke-dasharray="3 3" stroke-dashoffset="1"/>
<line x1="189" y1="162.5" x2="647" y2="162.5" stroke="#808080" stroke-width="1" stroke-dasharray="3 3" stroke-dashoffset="1"/>
<line x1="189" y1="186.5" x2="647" y2="186.5" stroke="#808080" stroke-width="1" stroke-dasharray="3 3" stroke-dashoffset="1"/>
<line x1="189" y1="211.5" x2="647" y2="211.5" stroke="#808080" stroke-width="1" stroke-dasharray="3 3" stroke-dashoffset="1"/>
<line x1="189" y1="235.5" x2="647" y2="235.5" stroke="#808080" stroke-width="1" stroke-dasharray="3 3" stroke-dashoffset="1"/>
<line x1="189" y1="259.5" x2="647" y2="259.5" stroke="#808080" stroke-width="1" stroke-dasharray="3 3" stroke-dashoffset="1"/>
<line x1="189" y1="283.5" x2="647" y2="283.5" stroke="#808080" stroke-width="1" stroke-dasharray="3 3" stroke-dashoffset="1"/>
<line x1="189" y1="307.5" x2="647" y2="307.5" stroke="#808080" stroke-width="1" stroke-dasharray="3 3" stroke-dashoffset="1"/>
<line x1="189" y1="331.5" x2="647" y2="331.5" stroke="#808080" stroke-width="1" stroke-dasharray="3 3" stroke-dashoffset="1"/>
<line x1="189" y1="355.5" x2="647" y2="355.5" stroke="#808080" stroke-width="1" stroke-dasharray="3 3" stroke-dashoffset="1"/>
<line x1="189" y1="379.5" x2="647" y2="379.5" stroke="#808080" stroke-width="1" stroke-dasharray="3 3" stroke-dashoffset="1"/>
<line x1="189" y1="404.5" x2="647" y2="404.5" stroke="#808080" stroke-width="1" stroke-dasharray="3 3" stroke-dashoffset="1"/>
<line x1="189" y1="428.5" x2="647" y2="428.5" stroke="#808080" stroke-width="1" stroke-dasharray="3 3" stroke-dashoffset="1"/>
<line x1="189" y1="452.5" x2="647" y2="452.5" stroke="#808080" stroke-width="1" stroke-dasharray="3 3" stroke-dashoffset="1"/>
<line x1="189" y1="476.5" x2="647" y2="476.5" stroke="#808080" stroke-width="1" stroke-dasharray="3 3" stroke-dashoffset="1"/>
<line x1="203.5" y1="91" x2="203.5" y2="499" stroke="#808080" stroke-width="1" stroke-dasharray="3 3" stroke-dashoffset="1"/>
<line x1="219.5" y1="91" x2="219.5" y2="499" stroke="#808080" stroke-width="1" stroke-dasharray="3 3" stroke-dashoffset="1"/>
<line x1="234.5" y1="91" x2="234.5" y2="499" stroke="#808080" stroke-width="1" stroke-dasharray="3 3" stroke-dashoffset="1"/>
<line x1="249.5" y1="91" x2="249.5" y2="499" stroke="#808080" stroke-width="1" stroke-dasharray="3 3" stroke-dashoffset="1"/>
<line x1="265.5" y1="91" x2="265.5" y2="499" stroke="#808080" stroke-width="1" stroke-dasharray="3 3" stroke-dashoffset="1"/>
<line x1="280.5" y1="91" x2="280.5" y2="499" stroke="#808080" stroke-width="1" stroke-dasharray="3 3" stroke-dashoffset="1"/>
<line x1="295.5" y1="91" x2="295.5" y2="499" stroke="#808080" stroke-width="1" stroke-dasharray="3 3" stroke-dashoffset="1"/>
<line x1="311.5" y1="91" x2="311.5" y2="499" stroke="#808080" stroke-width="1" stroke-dasharray="3 3" stroke-dashoffset="1"/>
<line x1="326.5" y1="91" x2="326.5" y2="499" stroke="#808080" stroke-width="1" stroke-dasharray="3 3" stroke-dashoffset="1"/>
<line x1="341.5" y1="91" x2="341.5" y2="499" stroke="#808080" stroke-width="1" stroke-dasharray="3 3" stroke-dashoffset="1"/>
<line x1="357.5" y1="91" x2="357.5" y2="499" stroke="#808080" stroke-width="1" stroke-dasharray="3 3" stroke-dashoffset="1"/>
<line x1="372.5" y1="91" x2="372.5" y2="499" stroke="#808080" stroke-width="1" stroke-dasharray="3 3" stroke-dashoffset="1"/>
<line x1="387.5" y1="91" x2="387.5" y2="499" stroke="#808080" stroke-width="1" stroke-dasharray="3 3" stroke-dashoffset="1"/>
<line x1="403.5" y1="91" x2="403.5" y2="499" stroke="#808080" stroke-width="1" stroke-dasharray="3 3" stroke-dashoffset="1"/>
<line x1="418.5" y1="91" x2="418.5" y2="499" stroke="#808080" stroke-width="1" stroke-dasharray="3 3" stroke-dashoffset="1"/>
<line x1="433.5" y1="91" x2="433.5" y2="499" stroke="#808080" stroke-width="1" stroke-dasharray="3 3" stroke-dashoffset="1"/>
<line x1="449.5" y1="91" x2="449.5" y2="499" stroke="#808080" stroke-width="1" stroke-dasharray="3 3" stroke-dashoffset="1"/>
<line x1="464.5" y1="91" x2="464.5" y2="499" stroke="#808080" stroke-width="1" stroke-dasharray="3 3" stroke-dashoffset="1"/>
<line x1="479.5" y1="91" x2="479.5" y2="499" stroke="#808080" stroke-width="1" stroke-dasharray="3 3" stroke-dashoffset="1"/>
<line x1="495.5" y1="91" x2="495.5" y2="499" stroke="#808080" stroke-width="1" stroke-dasharray="3 3" stroke-dashoffset="1"/>
<line x1="510.5" y1="91" x2="510.5" y2="499" stroke="#808080" stroke-width="1" stroke-dasharray="3 3" stroke-dashoffset="1"/>
<line x1="525.5" y1="91" x2="525.5" y2="499" stroke="#808080" stroke-width="1" stroke-dasharray="3 3" stroke-dashoffset="1"/>
<line x1="541.5" y1="91" x2="541.5" y2="499" stroke="#808080" stroke-width="1" stroke-dasharray="3 3" stroke-dashoffset="1"/>
<line x1="556.5" y1="91" x2="556.5" y2="499" stroke="#808080" stroke-width="1" stroke-dasharray="3 3" stroke-dashoffset="1"/>
<line x1="571.5" y1="91" x2="571.5" y2="499" stroke="#808080" stroke-width="1" stroke-dasharray="3 3" stroke-dashoffset="1"/>
<line x1="587.5" y1="91" x2="587.5" y2="499" stroke="#808080" stroke-width="1" stroke-dasharray="3 3" stroke-dashoffset="1"/>
<line x1="602.5" y1="91" x2="602.5" y2="499" stroke="#808080" stroke-width="1" stroke-dasharray="3 3" stroke-dashoffset="1"/>
<line x1="617.5" y1="91" x2="617.5" y2="499" stroke="#808080" stroke-width="1" stroke-dasharray="3 3" stroke-dashoffset="1"/>
<line x1="633.5" y1="91" x2="633.5" y2="499" stroke="#808080" stroke-width="1" stroke-dasharray="3 3" stroke-dashoffset="1"/>
<line x1="188.5" y1="501" x2="188.5" y2="505" stroke="#808080" stroke-width="1" />
<text xml:space="preserve" transform="translate(188.50,519.00) scale(0.88,1)" x="0" y="0" fill="#000" font-size="12" text-anchor="middle" font-weight="normal">1</text>
<line x1="203.5" y1="501" x2="203.5" y2="505" stroke="#808080" stroke-width="1" />
<text xml:space="preserve" transform="translate(203.83,519.00) scale(0.88,1)" x="0" y="0" fill="#000" font-size="12" text-anchor="middle" font-weight="normal">2</text>
<line x1="219.5" y1="501" x2="219.5" y2="505" stroke="#808080" stroke-width="1" />
<text xml:space="preserve" transform="translate(219.17,519.00) scale(0.88,1)" x="0" y="0" fill="#000" font-size="12" text-anchor="middle" font-weight="normal">3</text>
<line x1="234.5" y1="501" x2="234.5" y2="505" stroke="#808080" stroke-width="1" />
<text xml:space="preserve" transform="translate(234.50,519.00) scale(0.88,1)" x="0" y="0" fill="#000" font-size="12" text-anchor="middle" font-weight="normal">4</text>
<line x1="249.5" y1="501" x2="249.5" y2="505" stroke="#808080" stroke-width="1" />
<text xml:space="preserve" transform="translate(249.83,519.00) scale(0.88,1)" x="0" y="0" fill="#000" font-size="12" text-anchor="middle" font-weight="normal">5</text>
<line x1="265.5" y1="501" x2="265.5" y2="505" stroke="#808080" stroke-width="1" />
<text xml:space="preserve" transform="translate(265.17,519.00) scale(0.88,1)" x="0" y="0" fill="#000" font-size="12" text-anchor="middle" font-weight="normal">6</text>
<line x1="280.5" y1="501" x2="280.5" y2="505" stroke="#808080" stroke-width="1" />
<text xml:space="preserve" transform="translate(280.50,519.00) scale(0.88,1)" x="0" y="0" fill="#000" font-size="12" text-anchor="middle" font-weight="normal">7</text>
<line x1="295.5" y1="501" x2="295.5" y2="505" stroke="#808080" stroke-width="1" />
<text xml:space="preserve" transform="translate(295.83,519.00) scale(0.88,1)" x="0" y="0" fill="#000" font-size="12" text-anchor="middle" font-weight="normal">8</text>
<line x1="311.5" y1="501" x2="311.5" y2="505" stroke="#808080" stroke-width="1" />
<text xml:space="preserve" transform="translate(311.17,519.00) scale(0.88,1)" x="0" y="0" fill="#000" font-size="12" text-anchor="middle" font-weight="normal">9</text>
<line x1="326.5" y1="501" x2="326.5" y2="505" stroke="#808080" stroke-width="1" />
<text xml:space="preserve" transform="translate(326.50,519.00) scale(0.88,1)" x="0" y="0" fill="#000" font-size="12" text-anchor="middle" font-weight="normal">10</text>
<line x1="341.5" y1="501" x2="341.5" y2="505" stroke="#808080" stroke-width="1" />
<text xml:space="preserve" transform="translate(341.83,519.00) scale(0.88,1)" x="0" y="0" fill="#000" font-size="12" text-anchor="middle" font-weight="normal">11</text>
<line x1="357.5" y1="501" x2="357.5" y2="505" stroke="#808080" stroke-width="1" />
<text xml:space="preserve" transform="translate(357.17,519.00) scale(0.88,1)" x="0" y="0" fill="#000" font-size="12" text-anchor="middle" font-weight="normal">12</text>
<line x1="372.5" y1="501" x2="372.5" y2="505" stroke="#808080" stroke-width="1" />
<text xml:space="preserve" transform="translate(372.50,519.00) scale(0.88,1)" x="0" y="0" fill="#000" font-size="12" text-anchor="middle" font-weight="normal">13</text>
<line x1="387.5" y1="501" x2="387.5" y2="505" stroke="#808080" stroke-width="1" />
<text xml:space="preserve" transform="translate(387.83,519.00) scale(0.88,1)" x="0" y="0" fill="#000" font-size="12" text-anchor="middle" font-weight="normal">14</text>
<line x1="403.5" y1="501" x2="403.5" y2="505" stroke="#808080" stroke-width="1" />
<text xml:space="preserve" transform="translate(403.17,519.00) scale(0.88,1)" x="0" y="0" fill="#000" font-size="12" text-anchor="middle" font-weight="normal">15</text>
<line x1="418.5" y1="501" x2="418.5" y2="505" stroke="#808080" stroke-width="1" />
<text xml:space="preserve" transform="translate(418.50,519.00) scale(0.88,1)" x="0" y="0" fill="#000" font-size="12" text-anchor="middle" font-weight="normal">16</text>
<line x1="433.5" y1="501" x2="433.5" y2="505" stroke="#808080" stroke-width="1" />
<text xml:space="preserve" transform="translate(433.83,519.00) scale(0.88,1)" x="0" y="0" fill="#000" font-size="12" text-anchor="middle" font-weight="normal">17</text>
<line x1="449.5" y1="501" x2="449.5" y2="505" stroke="#808080" stroke-width="1" />
<text xml:space="preserve" transform="translate(449.17,519.00) scale(0.88,1)" x="0" y="0" fill="#000" font-size="12" text-anchor="middle" font-weight="normal">18</text>
<line x1="464.5" y1="501" x2="464.5" y2="505" stroke="#808080" stroke-width="1" />
<text xml:space="preserve" transform="translate(464.50,519.00) scale(0.88,1)" x="0" y="0" fill="#000" font-size="12" text-anchor="middle" font-weight="normal">19</text>
<line x1="479.5" y1="501" x2="479.5" y2="505" stroke="#808080" stroke-width="1" />
<text xml:space="preserve" transform="translate(479.83,519.00) scale(0.88,1)" x="0" y="0" fill="#000" font-size="12" text-anchor="middle" font-weight="normal">20</text>
<line x1="495.5" y1="501" x2="495.5" y2="505" stroke="#808080" stroke-width="1" />
<text xml:space="preserve" transform="translate(495.17,519.00) scale(0.88,1)" x="0" y="0" fill="#000" font-size="12" text-anchor="middle" font-weight="normal">21</text>
<line x1="510.5" y1="501" x2="510.5" y2="505" stroke="#808080" stroke-width="1" />
<text xml:space="preserve" transform="translate(510.50,519.00) scale(0.88,1)" x="0" y="0" fill="#000" font-size="12" text-anchor="middle" font-weight="normal">22</text>
<line x1="525.5" y1="501" x2="525.5" y2="505" stroke="#808080" stroke-width="1" />
<text xml:space="preserve" transform="translate(525.83,519.00) scale(0.88,1)" x="0" y="0" fill="#000" font-size="12" text-anchor="middle" font-weight="normal">23</text>
<line x1="541.5" y1="501" x2="541.5" y2="505" stroke="#808080" stroke-width="1" />
<text xml:space="preserve" transform="translate(541.17,519.00) scale(0.88,1)" x="0" y="0" fill="#000" font-size="12" text-anchor="middle" font-weight="normal">24</text>
<line x1="556.5" y1="501" x2="556.5" y2="505" stroke="#808080" stroke-width="1" />
<text xml:space="preserve" transform="translate(556.50,519.00) scale(0.88,1)" x="0" y="0" fill="#000" font-size="12" text-anchor="middle" font-weight="normal">25</text>
<line x1="571.5" y1="501" x2="571.5" y2="505" stroke="#808080" stroke-width="1" />
<text xml:space="preserve" transform="translate(571.83,519.00) scale(0.88,1)" x="0" y="0" fill="#000" font-size="12" text-anchor="middle" font-weight="normal">26</text>
<line x1="587.5" y1="501" x2="587.5" y2="505" stroke="#808080" stroke-width="1" />
<text xml:space="preserve" transform="translate(587.17,519.00) scale(0.88,1)" x="0" y="0" fill="#000" font-size="12" text-anchor="middle" font-weight="normal">27</text>
<line x1="602.5" y1="501" x2="602.5" y2="505" stroke="#808080" stroke-width="1" />
<text xml:space="preserve" transform="translate(602.50,519.00) scale(0.88,1)" x="0" y="0" fill="#000" font-size="12" text-anchor="middle" font-weight="normal">28</text>
<line x1="617.5" y1="501" x2="617.5" y2="505" stroke="#808080" stroke-width="1" />
<text xml:space="preserve" transform="translate(617.83,519.00) scale(0.88,1)" x="0" y="0" fill="#000" font-size="12" text-anchor="middle" font-weight="normal">29</text>
<line x1="633.5" y1="501" x2="633.5" y2="505" stroke="#808080" stroke-width="1" />
<text xml:space="preserve" transform="translate(633.17,519.00) scale(0.88,1)" x="0" y="0" fill="#000" font-size="12" text-anchor="middle" font-weight="normal">30</text>
<line x1="648.5" y1="501" x2="648.5" y2="505" stroke="#808080" stroke-width="1" />
<text xml:space="preserve" transform="translate(648.50,519.00) scale(0.88,1)" x="0" y="0" fill="#000" font-size="12" text-anchor="middle" font-weight="normal">31</text>
<rect x="188" y="90" width="460" height="410" fill="none" stroke="#808080" stroke-width="2"/>
<g clip-path="url(#plotclip)">
<defs><clipPath id="plotclip"><rect x="187" y="91" width="461" height="409"/></clipPath></defs>
<line x1="184" y1="292.5" x2="647" y2="292.5" stroke="#ff0080" stroke-width="1" stroke-dasharray="18 6"/>
<line x1="184" y1="303.5" x2="647" y2="303.5" stroke="#008040" stroke-width="1" stroke-dasharray="18 6"/>
<path d="M185,499 V477.3 Q185,474.8 188,474.8 Q191,474.8 191,477.3 V499 Z" fill="#ff8000"/>
<path d="M200,499 V475.0 Q200,472.5 203,472.5 Q206,472.5 206,475.0 V499 Z" fill="#ff8000"/>
<path d="M216,499 V488.5 Q216,486 219,486 Q222,486 222,488.5 V499 Z" fill="#ff8000"/>
<path d="M231,499 V483.5 Q231,481 234,481 Q237,481 237,483.5 V499 Z" fill="#ff8000"/>
<path d="M246,499 V480.1 Q246,477.6 249,477.6 Q252,477.6 252,480.1 V499 Z" fill="#ff8000"/>
<path d="M262,499 V455.8 Q262,453.3 265,453.3 Q268,453.3 268,455.8 V499 Z" fill="#ff8000"/>
<path d="M277,499 V458.7 Q277,456.2 280,456.2 Q283,456.2 283,458.7 V499 Z" fill="#ff8000"/>
<path d="M292,499 V456.9 Q292,454.4 295,454.4 Q298,454.4 298,456.9 V499 Z" fill="#ff8000"/>
<path d="M308,499 V457.8 Q308,455.3 311,455.3 Q314,455.3 314,457.8 V499 Z" fill="#ff8000"/>
<path d="M323,499 V456.0 Q323,453.5 326,453.5 Q329,453.5 329,456.0 V499 Z" fill="#ff8000"/>
<path d="M338,499 V456.0 Q338,453.5 341,453.5 Q344,453.5 344,456.0 V499 Z" fill="#ff8000"/>
<path d="M354,499 V456.9 Q354,454.4 357,454.4 Q360,454.4 360,456.9 V499 Z" fill="#ff8000"/>
<path d="M369,499 V456.9 Q369,454.4 372,454.4 Q375,454.4 375,456.9 V499 Z" fill="#ff8000"/>
<path d="M384,499 V456.0 Q384,453.5 387,453.5 Q390,453.5 390,456.0 V499 Z" fill="#ff8000"/>
<path d="M400,499 V463.4 Q400,460.9 403,460.9 Q406,460.9 406,463.4 V499 Z" fill="#ff8000"/>
<path d="M415,499 V464.3 Q415,461.8 418,461.8 Q421,461.8 421,464.3 V499 Z" fill="#ff8000"/>
<path d="M430,499 V461.5 Q430,459 433,459 Q436,459 436,461.5 V499 Z" fill="#ff8000"/>
<path d="M446,499 V456.9 Q446,454.4 449,454.4 Q452,454.4 452,456.9 V499 Z" fill="#ff8000"/>
<path d="M461,499 V457.0 Q461,454.5 464,454.5 Q467,454.5 467,457.0 V499 Z" fill="#ff8000"/>
<path d="M476,499 V475.5 Q476,473 479,473 Q482,473 482,475.5 V499 Z" fill="#ff8000"/>
<path d="M492,499 V476.5 Q492,474 495,474 Q498,474 498,476.5 V499 Z" fill="#ff8000"/>
<path d="M507,499 V464.5 Q507,462 510,462 Q513,462 513,464.5 V499 Z" fill="#ff8000"/>
<path d="M522,499 V484.5 Q522,482 525,482 Q528,482 528,484.5 V499 Z" fill="#ff8000"/>
<path d="M538,499 V459.5 Q538,457 541,457 Q544,457 544,459.5 V499 Z" fill="#ff8000"/>
<path d="M553,499 V459.8 Q553,457.3 556,457.3 Q559,457.3 559,459.8 V499 Z" fill="#ff8000"/>
<path d="M568,499 V460.5 Q568,458 571,458 Q574,458 574,460.5 V499 Z" fill="#ff8000"/>
<path d="M584,499 V480.0 Q584,477.5 587,477.5 Q590,477.5 590,480.0 V499 Z" fill="#ff8000"/>
<path d="M614,499 V463.7 Q614,461.2 617,461.2 Q620,461.2 620,463.7 V499 Z" fill="#ff8000"/>
<path d="M630,499 V473.2 Q630,470.7 633,470.7 Q636,470.7 636,473.2 V499 Z" fill="#ff8000"/>
<path d="M645,499 V473.2 Q645,470.7 648,470.7 Q651,470.7 651,473.2 V499 Z" fill="#ff8000"/>
<rect x="187" y="264.6" width="2" height="234.39999999999998" fill="#0000ff"/>
<rect x="202" y="496.5" width="2" height="2.5" fill="#0000ff"/>
<rect x="233" y="472.7" width="2" height="26.30000000000001" fill="#0000ff"/>
<rect x="586" y="482" width="2" height="17" fill="#0000ff"/>
<rect x="601" y="420.7" width="3" height="78.30000000000001" fill="#0000ff"/>
<rect x="616" y="479" width="2" height="20" fill="#0000ff"/>
<polyline points="188.0,477.5 203.3,472.0 218.7,479.0 234.0,472.0 249.3,450.7 264.7,487.0 280.0,477.5 295.3,484.7 310.7,486.0 326.0,451.6 341.3,480.3 356.7,481.0 372.0,489.0 387.3,485.5 402.7,464.7 418.0,444.6 433.3,441.0 448.7,478.5 464.0,486.0 479.3,487.0 494.7,457.0 510.0,427.0 525.3,470.2 540.7,477.0 556.0,484.0 571.3,477.0 586.7,469.5 602.0,488.0 617.3,459.5 632.7,467.0 648.0,478.0" fill="none" stroke="#c0c0c0" stroke-width="1" stroke-linejoin="miter" stroke-miterlimit="3" />
<polyline points="188.0,238.0 203.3,217.0 218.7,275.0 234.0,330.0 249.3,122.0 264.7,468.0 280.0,260.0 295.3,375.0 310.7,115.0 326.0,115.0 341.3,475.0 356.7,403.0 372.0,475.0 387.3,365.0 402.7,120.0 418.0,474.0 433.3,127.0 448.7,462.0 464.0,380.0 479.3,441.0 494.7,115.0 510.0,115.0 525.3,115.0 540.7,94.0 556.0,438.0 571.3,300.0 586.7,248.0 602.0,330.0 617.3,350.0 632.7,221.0 648.0,320.0" fill="none" stroke="#ffffff" stroke-width="1" stroke-linejoin="miter" stroke-miterlimit="3" />
<polyline points="188.0,238.0 203.3,217.0 218.7,275.0 234.0,330.0 249.3,122.0 264.7,468.0 280.0,260.0 295.3,375.0 310.7,115.0 326.0,115.0 341.3,475.0 356.7,403.0 372.0,475.0 387.3,365.0 402.7,120.0 418.0,474.0 433.3,127.0 448.7,462.0 464.0,380.0 479.3,441.0 494.7,115.0 510.0,115.0 525.3,115.0 540.7,94.0 556.0,438.0 571.3,300.0 586.7,248.0 602.0,330.0 617.3,350.0 632.7,221.0 648.0,320.0" fill="none" stroke="#808080" stroke-width="1" stroke-linejoin="miter" stroke-miterlimit="3" stroke-dasharray="3 3"/>
<polyline points="188.0,496.3 203.3,496.3 218.7,498.0 234.0,497.0 249.3,489.7 264.7,499.0 280.0,497.0 295.3,499.0 310.7,499.0 326.0,490.6 341.3,498.0 356.7,498.0 372.0,500.0 387.3,500.0 402.7,494.3 418.0,489.7 433.3,489.7 448.7,497.5 464.0,499.5 479.3,499.0 494.7,494.0 510.0,479.4 525.3,496.4 540.7,497.0 556.0,499.0 571.3,498.0 586.7,498.0 602.0,499.0 617.3,494.5 632.7,495.3 648.0,497.3" fill="none" stroke="#000000" stroke-width="1.6" stroke-linejoin="miter" stroke-miterlimit="3" />
<polyline points="188.0,216.0 218.7,481.0 234.0,365.0 249.3,498.0 264.7,468.0 280.0,438.7 295.3,496.2 310.7,496.0 326.0,500.0 341.3,499.0 356.7,498.0 372.0,479.5 387.3,496.2 402.7,492.5 418.0,493.4 433.3,500.0 448.7,496.0 464.0,488.7 479.3,487.0 494.7,498.0 510.0,498.7 525.3,497.8 540.7,465.2 556.0,487.9 571.3,483.0 586.7,420.7 602.0,150.0 613.0,225.0 626.0,360.0 632.7,468.0 648.0,497.8" fill="none" stroke="#00ffff" stroke-width="1" stroke-linejoin="miter" stroke-miterlimit="3" />
<polyline points="188.0,388.2 218.7,417.3 234.0,409.5 249.3,398.2 264.7,397.0 280.0,371.2 295.3,368.0 310.7,379.7 326.0,368.6 341.3,368.6 356.7,392.5 372.0,390.2 387.3,395.6 402.7,397.5 418.0,386.5 433.3,370.0 448.7,380.4 464.0,388.7 479.3,434.2 494.7,421.7 510.0,385.7 525.3,421.4 540.7,394.3 556.0,397.0 571.3,402.7 586.7,421.5 602.0,453.0 617.3,398.6 632.7,394.6 648.0,376.5" fill="none" stroke="#ffff00" stroke-width="1" stroke-linejoin="miter" stroke-miterlimit="3" />
<polyline points="188.0,363.1 203.3,354.8 218.7,410.5 234.0,392.2 249.3,377.7 264.7,330.6 280.0,321.3 295.3,313.9 310.7,326.9 326.0,321.3 341.3,319.2 356.7,331.9 372.0,332.5 387.3,336.2 402.7,360.3 418.0,337.1 433.3,326.0 448.7,324.1 464.0,324.1 479.3,378.9 494.7,378.0 510.0,331.6 525.3,390.9 540.7,323.7 556.0,329.6 571.3,338.5 586.7,380.0 602.0,437.5 617.3,331.6 632.7,352.4 648.0,354.3" fill="none" stroke="#ffa080" stroke-width="1" stroke-linejoin="miter" stroke-miterlimit="3" />
<polyline points="188.0,352.9 203.3,378.9 218.7,391.9 234.0,360.3 249.3,361.0 264.7,413.8 280.0,385.5 295.3,376.0 310.7,352.0 326.0,379.2 341.3,396.8 356.7,357.0 372.0,325.0 387.3,318.6 402.7,307.0 418.0,353.0 433.3,398.5 448.7,391.2 464.0,381.6 479.3,359.0 494.7,379.0 510.0,435.2 525.3,428.0 540.7,444.5 556.0,452.3 571.3,407.0 586.7,330.6 602.0,323.7 617.3,362.0 632.7,380.0 648.0,371.0" fill="none" stroke="#00ff00" stroke-width="1" stroke-linejoin="miter" stroke-miterlimit="3" />
<polyline points="188.0,151.0 203.3,184.3 218.7,196.6 234.0,165.7 249.3,211.0 264.7,232.2 280.0,220.0 295.3,253.8 310.7,245.5 326.0,258.0 341.3,280.0 356.7,250.7 372.0,241.0 387.3,240.5 402.7,234.0 418.0,248.8 433.3,244.2 448.7,239.6 464.0,254.8 479.3,220.1 494.7,250.0 510.0,270.1 525.3,241.4 540.7,248.4 556.0,261.2 571.3,253.3 602.0,131.0 617.3,182.8 632.7,198.8 648.0,199.6" fill="none" stroke="#8080ff" stroke-width="1" stroke-linejoin="miter" stroke-miterlimit="3" />
<polyline points="188.5,500.0 188.5,264.6 203.3,261.0 218.7,261.0 234.0,236.0 571.3,236.0 586.7,217.7 594.5,180.0 602.0,138.0 617.3,119.0 650.0,119.0" fill="none" stroke="#0000ff" stroke-width="1.7" stroke-linejoin="miter" stroke-miterlimit="3" />
<polyline points="188.0,335.3 203.3,318.0 218.7,221.9 234.0,219.1 249.3,236.6 264.7,145.2 280.0,234.7 295.3,240.2 310.7,231.2 326.0,138.8 341.3,176.0 356.7,268.3 372.0,290.6 418.0,214.5 433.3,218.2 448.7,239.6 479.3,393.9 494.7,402.0 510.0,260.2 525.3,231.6 540.7,214.8 556.0,235.5 571.3,325.7 586.7,366.0 602.0,410.0 617.3,455.0 632.7,380.0 648.0,354.0" fill="none" stroke="#ff0080" stroke-width="1" stroke-linejoin="miter" stroke-miterlimit="3" />
<polyline points="188.0,318.6 203.3,325.0 218.7,331.6 234.0,326.9 249.3,301.7 264.7,328.8 280.0,313.0 295.3,283.2 310.7,263.7 326.0,271.1 341.3,275.8 356.7,266.5 372.0,240.5 387.3,232.1 402.7,227.5 418.0,245.1 433.3,285.0 448.7,291.5 464.0,276.7 479.3,280.0 494.7,282.0 510.0,316.8 525.3,332.6 540.7,340.5 556.0,341.9 571.3,317.8 586.7,274.0 602.0,306.0 617.3,316.8 632.7,323.7 648.0,302.0" fill="none" stroke="#804000" stroke-width="1" stroke-linejoin="miter" stroke-miterlimit="3" />
<polyline points="188.0,318.6 203.3,326.0 218.7,333.4 234.0,322.3 249.3,289.7 264.7,329.3 280.0,307.4 295.3,262.8 310.7,250.7 326.0,273.0 341.3,266.5 356.7,254.4 372.0,222.5 387.3,216.9 402.7,214.5 418.0,247.9 433.3,300.8 448.7,299.9 464.0,275.2 479.3,280.4 494.7,281.0 510.0,324.7 525.3,341.5 540.7,345.8 556.0,344.5 571.3,312.0 586.7,264.6 602.0,305.0 617.3,310.9 632.7,318.8 648.0,308.9" fill="none" stroke="#008000" stroke-width="2.6" stroke-linejoin="miter" stroke-miterlimit="3" />
</g>
<line x1="317.5" y1="500" x2="317.5" y2="508" stroke="#000" stroke-width="1" />
<circle cx="317.5" cy="525.5" r="5" fill="#fff" stroke="#000" stroke-width="1.2"/>
<line x1="531.5" y1="500" x2="531.5" y2="508" stroke="#000" stroke-width="1" />
<circle cx="531.5" cy="525.5" r="4.6" fill="#000"/>
<path d="M528.7,527.5 V523.8 L529.8,522.7" fill="none" stroke="#fff" stroke-width="0.9"/>
<rect x="1" y="534" width="834" height="86" fill="#c0c0c0"/>
<rect x="87" y="534" width="1" height="86" fill="#fff"/>
<rect x="88" y="534" width="1" height="86" fill="#a0a0a0"/>
<rect x="204" y="534" width="1" height="86" fill="#fff"/>
<rect x="205" y="534" width="1" height="86" fill="#a0a0a0"/>
<rect x="322" y="534" width="1" height="86" fill="#fff"/>
<rect x="323" y="534" width="1" height="86" fill="#a0a0a0"/>
<rect x="440" y="534" width="1" height="86" fill="#fff"/>
<rect x="441" y="534" width="1" height="86" fill="#a0a0a0"/>
<rect x="558" y="534" width="1" height="86" fill="#fff"/>
<rect x="559" y="534" width="1" height="86" fill="#a0a0a0"/>
<rect x="676" y="534" width="1" height="86" fill="#fff"/>
<rect x="677" y="534" width="1" height="86" fill="#a0a0a0"/>
<rect x="794" y="534" width="1" height="86" fill="#fff"/>
<rect x="795" y="534" width="1" height="86" fill="#a0a0a0"/>
<text xml:space="preserve" x="9.00" y="552.00" fill="#000" font-size="12" text-anchor="start" font-weight="bold" textLength="39.199999999999996" lengthAdjust="spacingAndGlyphs">Sensor</text>
<text xml:space="preserve" x="9.00" y="568.00" fill="#000" font-size="12" text-anchor="start" font-weight="bold" textLength="46.8" lengthAdjust="spacingAndGlyphs">MinWert</text>
<text xml:space="preserve" x="9.00" y="584.00" fill="#000" font-size="12" text-anchor="start" font-weight="bold" textLength="50.199999999999996" lengthAdjust="spacingAndGlyphs">MaxWert</text>
<text xml:space="preserve" x="9.00" y="600.00" fill="#000" font-size="12" text-anchor="start" font-weight="bold" textLength="71.5" lengthAdjust="spacingAndGlyphs">Durchschnitt</text>
<text xml:space="preserve" x="9.00" y="615.50" fill="#000" font-size="12" text-anchor="start" font-weight="bold" textLength="35.099999999999994" lengthAdjust="spacingAndGlyphs">31.08.</text>
<text xml:space="preserve" x="95.00" y="552.00" fill="#000" font-size="12" text-anchor="start" font-weight="bold" textLength="63.8" lengthAdjust="spacingAndGlyphs">T- 2m aktiv</text>
<text xml:space="preserve" x="198.00" y="552.00" fill="#000" font-size="12" text-anchor="end" font-weight="bold" textLength="13.4" lengthAdjust="spacingAndGlyphs">°C</text>
<text xml:space="preserve" x="95.00" y="568.00" fill="#000" font-size="12" text-anchor="start" font-weight="normal" textLength="63.199999999999996" lengthAdjust="spacingAndGlyphs">25.08.  05:55</text>
<text xml:space="preserve" x="198.00" y="568.00" fill="#000" font-size="12" text-anchor="end" font-weight="normal" textLength="14.8" lengthAdjust="spacingAndGlyphs">8.9</text>
<text xml:space="preserve" x="95.00" y="584.00" fill="#000" font-size="12" text-anchor="start" font-weight="normal" textLength="63.199999999999996" lengthAdjust="spacingAndGlyphs">14.08.  16:35</text>
<text xml:space="preserve" x="198.00" y="584.00" fill="#000" font-size="12" text-anchor="end" font-weight="normal" textLength="21.1" lengthAdjust="spacingAndGlyphs">36.1</text>
<text xml:space="preserve" x="100.60" y="600.00" fill="#000" font-size="12" text-anchor="start" font-weight="normal" textLength="39.199999999999996" lengthAdjust="spacingAndGlyphs">(+ 0.99 )</text>
<text xml:space="preserve" x="198.00" y="600.00" fill="#000" font-size="12" text-anchor="end" font-weight="normal" textLength="26.8" lengthAdjust="spacingAndGlyphs">21.29</text>
<text xml:space="preserve" x="198.00" y="615.50" fill="#000" font-size="12" text-anchor="end" font-weight="bold" textLength="24.6" lengthAdjust="spacingAndGlyphs">20.0</text>
<text xml:space="preserve" x="213.00" y="552.00" fill="#000" font-size="12" text-anchor="start" font-weight="bold" textLength="63.3" lengthAdjust="spacingAndGlyphs">F- 2m aktiv</text>
<text xml:space="preserve" x="316.40" y="552.00" fill="#000" font-size="12" text-anchor="end" font-weight="bold" textLength="9.4" lengthAdjust="spacingAndGlyphs">%</text>
<text xml:space="preserve" x="213.00" y="568.00" fill="#000" font-size="12" text-anchor="start" font-weight="normal" textLength="63.3" lengthAdjust="spacingAndGlyphs">08.08.  18:50</text>
<text xml:space="preserve" x="316.40" y="568.00" fill="#000" font-size="12" text-anchor="end" font-weight="normal" textLength="12.3" lengthAdjust="spacingAndGlyphs">27</text>
<text xml:space="preserve" x="213.00" y="584.00" fill="#000" font-size="12" text-anchor="start" font-weight="normal" textLength="63.3" lengthAdjust="spacingAndGlyphs">01.08.  08:30</text>
<text xml:space="preserve" x="316.40" y="584.00" fill="#000" font-size="12" text-anchor="end" font-weight="normal" textLength="12.3" lengthAdjust="spacingAndGlyphs">95</text>
<text xml:space="preserve" x="316.40" y="600.00" fill="#000" font-size="12" text-anchor="end" font-weight="normal" textLength="12.3" lengthAdjust="spacingAndGlyphs">67</text>
<text xml:space="preserve" x="215.80" y="615.50" fill="#000" font-size="12" text-anchor="start" font-weight="normal" textLength="51.8" lengthAdjust="spacingAndGlyphs">12.62 g/m³</text>
<text xml:space="preserve" x="316.40" y="615.50" fill="#000" font-size="12" text-anchor="end" font-weight="bold" textLength="13.8" lengthAdjust="spacingAndGlyphs">73</text>
<text xml:space="preserve" x="331.00" y="552.00" fill="#000" font-size="12" text-anchor="start" font-weight="bold" textLength="53.8" lengthAdjust="spacingAndGlyphs">Luftdruck</text>
<text xml:space="preserve" x="434.40" y="552.00" fill="#000" font-size="12" text-anchor="end" font-weight="bold" textLength="22.400000000000002" lengthAdjust="spacingAndGlyphs">hPa</text>
<text xml:space="preserve" x="331.00" y="568.00" fill="#000" font-size="12" text-anchor="start" font-weight="normal" textLength="63.3" lengthAdjust="spacingAndGlyphs">29.08.  18:20</text>
<text xml:space="preserve" x="434.40" y="568.00" fill="#000" font-size="12" text-anchor="end" font-weight="normal" textLength="33.4" lengthAdjust="spacingAndGlyphs">1000.8</text>
<text xml:space="preserve" x="331.00" y="584.00" fill="#000" font-size="12" text-anchor="start" font-weight="normal" textLength="63.3" lengthAdjust="spacingAndGlyphs">06.08.  08:40</text>
<text xml:space="preserve" x="434.40" y="584.00" fill="#000" font-size="12" text-anchor="end" font-weight="normal" textLength="33.4" lengthAdjust="spacingAndGlyphs">1024.8</text>
<text xml:space="preserve" x="434.40" y="600.00" fill="#000" font-size="12" text-anchor="end" font-weight="normal" textLength="32.8" lengthAdjust="spacingAndGlyphs">1014.1</text>
<text xml:space="preserve" x="434.40" y="615.50" fill="#000" font-size="12" text-anchor="end" font-weight="bold" textLength="39.599999999999994" lengthAdjust="spacingAndGlyphs">1009.5</text>
<text xml:space="preserve" x="448.50" y="552.00" fill="#000" font-size="12" text-anchor="start" font-weight="bold" textLength="57.599999999999994" lengthAdjust="spacingAndGlyphs">Windböen</text>
<text xml:space="preserve" x="552.40" y="552.00" fill="#000" font-size="12" text-anchor="end" font-weight="bold" textLength="29.6" lengthAdjust="spacingAndGlyphs">km/h</text>
<text xml:space="preserve" x="449.00" y="568.00" fill="#000" font-size="12" text-anchor="start" font-weight="normal" textLength="63.3" lengthAdjust="spacingAndGlyphs">01.08.  00:05</text>
<text xml:space="preserve" x="552.40" y="568.00" fill="#000" font-size="12" text-anchor="end" font-weight="normal" textLength="15.8" lengthAdjust="spacingAndGlyphs">0.0</text>
<text xml:space="preserve" x="449.00" y="584.00" fill="#000" font-size="12" text-anchor="start" font-weight="normal" textLength="79.8" lengthAdjust="spacingAndGlyphs">01.08.  17:N-NW</text>
<text xml:space="preserve" x="552.40" y="584.00" fill="#000" font-size="12" text-anchor="end" font-weight="normal" textLength="21.8" lengthAdjust="spacingAndGlyphs">27.4</text>
<text xml:space="preserve" x="552.40" y="600.00" fill="#000" font-size="12" text-anchor="end" font-weight="normal" textLength="15.3" lengthAdjust="spacingAndGlyphs">4.1</text>
<text xml:space="preserve" x="454.70" y="615.50" fill="#000" font-size="12" text-anchor="start" font-weight="normal" textLength="49.599999999999994" lengthAdjust="spacingAndGlyphs">1 Bft S-SO</text>
<text xml:space="preserve" x="552.40" y="615.50" fill="#000" font-size="12" text-anchor="end" font-weight="bold" textLength="17.400000000000002" lengthAdjust="spacingAndGlyphs">3.1</text>
<text xml:space="preserve" x="567.00" y="552.00" fill="#000" font-size="12" text-anchor="start" font-weight="bold" textLength="37.5" lengthAdjust="spacingAndGlyphs">Regen</text>
<text xml:space="preserve" x="670.40" y="552.00" fill="#000" font-size="12" text-anchor="end" font-weight="bold" textLength="22.400000000000002" lengthAdjust="spacingAndGlyphs">l/m²</text>
<text xml:space="preserve" x="567.00" y="568.00" fill="#000" font-size="12" text-anchor="start" font-weight="normal" textLength="69.8" lengthAdjust="spacingAndGlyphs">Regentage: 21</text>
<text xml:space="preserve" x="567.00" y="584.00" fill="#000" font-size="12" text-anchor="start" font-weight="normal" textLength="63.3" lengthAdjust="spacingAndGlyphs">01.08.  17:30</text>
<text xml:space="preserve" x="670.40" y="584.00" fill="#000" font-size="12" text-anchor="end" font-weight="normal" textLength="21.8" lengthAdjust="spacingAndGlyphs">31.6</text>
<text xml:space="preserve" x="567.00" y="600.00" fill="#000" font-size="12" text-anchor="start" font-weight="normal" textLength="38.199999999999996" lengthAdjust="spacingAndGlyphs">Gesamt:</text>
<text xml:space="preserve" x="670.40" y="600.00" fill="#000" font-size="12" text-anchor="end" font-weight="normal" textLength="21.8" lengthAdjust="spacingAndGlyphs">51.2</text>
<text xml:space="preserve" x="569.80" y="615.50" fill="#000" font-size="12" text-anchor="start" font-weight="normal" textLength="41.8" lengthAdjust="spacingAndGlyphs">51.2 l/m²</text>
<text xml:space="preserve" x="670.40" y="615.50" fill="#000" font-size="12" text-anchor="end" font-weight="bold" textLength="18.1" lengthAdjust="spacingAndGlyphs">0.0</text>
<text xml:space="preserve" x="685.00" y="552.00" fill="#000" font-size="12" text-anchor="start" font-weight="bold" textLength="57.599999999999994" lengthAdjust="spacingAndGlyphs">PMV+2:24</text>
<text xml:space="preserve" x="684.50" y="568.00" fill="#000" font-size="12" text-anchor="start" font-weight="normal" textLength="56.8" lengthAdjust="spacingAndGlyphs">WC 19.9 °C</text>
<text xml:space="preserve" x="685.00" y="584.00" fill="#000" font-size="12" text-anchor="start" font-weight="normal" textLength="51.8" lengthAdjust="spacingAndGlyphs">TP 14.7 °C</text>
</svg>
</body></html>
